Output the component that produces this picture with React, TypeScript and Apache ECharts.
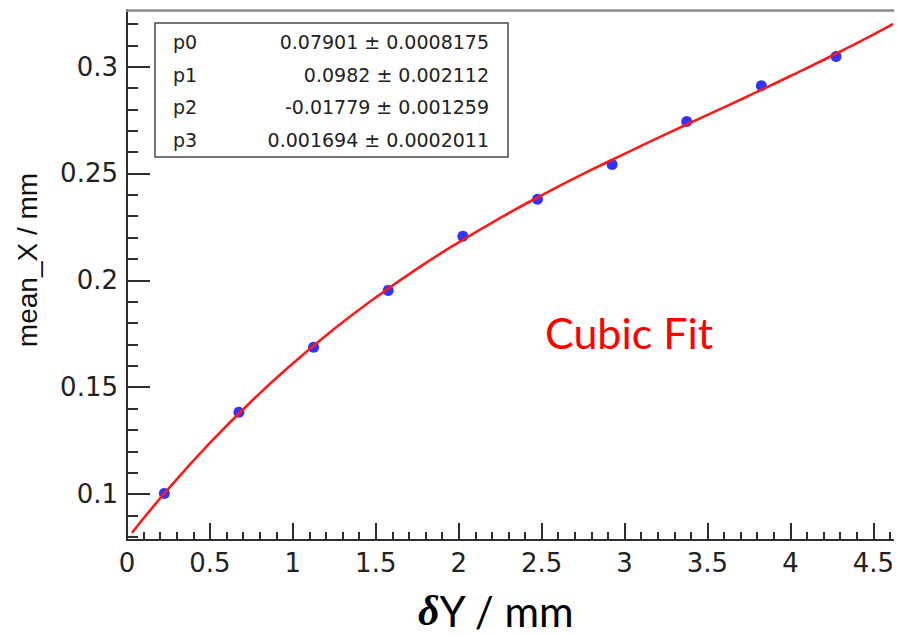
import React, { useEffect, useRef } from "react";
import * as echarts from "echarts";

// Measured points
const pointX = [0.225, 0.675, 1.125, 1.575, 2.025, 2.475, 2.925, 3.375, 3.825, 4.275];
const pointY = [0.1003, 0.1383, 0.1687, 0.1953, 0.2206, 0.2379, 0.2542, 0.2743, 0.2911, 0.3047];

const curveX = [0.03, 0.25, 0.5, 0.75, 1.0, 1.25, 1.5, 1.75, 2.0, 2.25, 2.5, 2.75, 3.0, 3.25, 3.5, 3.75, 4.0, 4.25, 4.5, 4.62];
const curveY = [0.0819, 0.1025, 0.1239, 0.1434, 0.1611, 0.1773, 0.192, 0.2055, 0.2178, 0.2292, 0.2398, 0.2498, 0.2592, 0.2684, 0.2774, 0.2864, 0.2956, 0.3051, 0.315, 0.32];

// Axis ticks
const xMajorTicks = [0, 0.5, 1, 1.5, 2, 2.5, 3, 3.5, 4, 4.5];
const xMinorTicks = [0.1, 0.2, 0.3, 0.4, 0.6, 0.7, 0.8, 0.9, 1.1, 1.2, 1.3, 1.4, 1.6, 1.7, 1.8, 1.9, 2.1, 2.2, 2.3, 2.4, 2.6, 2.7, 2.8, 2.9, 3.1, 3.2, 3.3, 3.4, 3.6, 3.7, 3.8, 3.9, 4.1, 4.2, 4.3, 4.4, 4.6];
const yMajorTicks = [0.1, 0.15, 0.2, 0.25, 0.3];
const yMinorTicks = [0.08, 0.09, 0.11, 0.12, 0.13, 0.14, 0.16, 0.17, 0.18, 0.19, 0.21, 0.22, 0.23, 0.24, 0.26, 0.27, 0.28, 0.29, 0.31, 0.32];

// Stats box
const paramNames = ["p0", "p1", "p2", "p3"];
const paramValues = ["0.07901", "0.0982", "-0.01779", "0.001694"];
const paramErrors = ["0.0008175", "0.002112", "0.001259", "0.0002011"];

const X_MIN = 0;
const X_MAX = 4.62;
const Y_MIN = 0.0785;
const Y_MAX = 0.3265;

const AXIS_COLOR = "#2e2e2e";

function tickAxisX(values: number[], len: number, showLine: boolean): any {
  return {
    type: "value",
    min: X_MIN,
    max: X_MAX,
    position: "bottom",
    axisLine: { show: showLine, onZero: false, lineStyle: { color: AXIS_COLOR, width: 2 } },
    axisTick: {
      show: true,
      inside: true,
      length: len,
      customValues: values,
      lineStyle: { color: AXIS_COLOR, width: 2 },
    },
    axisLabel: { show: false },
    splitLine: { show: false },
  };
}

function tickAxisY(values: number[], len: number, showLine: boolean): any {
  return {
    type: "value",
    min: Y_MIN,
    max: Y_MAX,
    position: "left",
    axisLine: { show: showLine, onZero: false, lineStyle: { color: AXIS_COLOR, width: 2 } },
    axisTick: {
      show: true,
      inside: true,
      length: len,
      customValues: values,
      lineStyle: { color: AXIS_COLOR, width: 2 },
    },
    axisLabel: { show: false },
    splitLine: { show: false },
  };
}

export default function App() {
  const ref = useRef<HTMLDivElement>(null);

  useEffect(() => {
    if (!ref.current) return;
    const chart = echarts.init(ref.current, undefined, { renderer: "svg" });

    const tickFont = "DejaVu Sans";

    const statsGraphics: any[] = [
      {
        type: "rect",
        shape: { x: 155, y: 23, width: 353, height: 134 },
        style: { fill: "#ffffff", stroke: "#4a4a4a", lineWidth: 1.5 },
        z: 100,
      },
    ];
    paramNames.forEach((n, i) => {
      const y = 42 + i * 32.5;
      statsGraphics.push({
        type: "text",
        x: 173,
        y,
        z: 101,
        style: {
          text: n,
          fontSize: 19,
          fontFamily: tickFont,
          fill: "#222",
          align: "left",
          verticalAlign: "middle",
        },
      });
      statsGraphics.push({
        type: "text",
        x: 489,
        y,
        z: 101,
        style: {
          text: `${paramValues[i]} ± ${paramErrors[i]}`,
          fontSize: 19,
          fontFamily: tickFont,
          fill: "#222",
          align: "right",
          verticalAlign: "middle",
        },
      });
    });

    const majorX = tickAxisX(xMajorTicks, 17, true);
    majorX.axisLabel = {
      show: true,
      customValues: xMajorTicks,
      fontFamily: tickFont,
      fontSize: 26,
      color: "#222",
      margin: 10,
    };
    const majorY = tickAxisY(yMajorTicks, 23, true);
    majorY.axisLabel = {
      show: true,
      customValues: yMajorTicks,
      fontFamily: tickFont,
      fontSize: 26,
      color: "#222",
      margin: 9,
    };

    const option: any = {
      animation: false,
      grid: { left: 127, top: 10, right: 0, bottom: 95 },
      xAxis: [
        majorX,
        tickAxisX(xMinorTicks, 8, false),
        {
          type: "value",
          min: X_MIN,
          max: X_MAX,
          position: "top",
          axisLine: { show: true, onZero: false, lineStyle: { color: "#8a8a8a", width: 2.5 } },
          axisTick: { show: false },
          axisLabel: { show: false },
          splitLine: { show: false },
        },
      ],
      yAxis: [majorY, tickAxisY(yMinorTicks, 11, false)],
      series: [
        {
          type: "scatter",
          xAxisIndex: 0,
          yAxisIndex: 0,
          data: pointX.map((x, i) => [x, pointY[i]]),
          symbol: "circle",
          symbolSize: 11,
          itemStyle: { color: "#0000ff" },
        },
        {
          type: "line",
          xAxisIndex: 0,
          yAxisIndex: 0,
          data: curveX.map((x, i) => [x, curveY[i]]),
          smooth: true,
          showSymbol: false,
          symbol: "none",
          lineStyle: { color: "#ff1a1a", width: 2.6 },
        },
      ],
      graphic: [
        ...statsGraphics,
        {
          type: "text",
          x: 27,
          y: 260,
          rotation: Math.PI / 2,
          style: {
            text: "mean_X / mm",
            fontSize: 28,
            fontFamily: "Liberation Sans",
            fill: "#111",
            align: "center",
            verticalAlign: "middle",
          },
        },
        {
          type: "text",
          x: 545,
          y: 332,
          style: {
            text: "Cubic Fit",
            fontSize: 43,
            fontFamily: "Lato",
            fill: "#ff0000",
            align: "left",
            verticalAlign: "middle",
          },
        },
        {
          type: "text",
          x: 418,
          y: 611,
          style: {
            text: "{d|δ}{t|Y / mm}",
            align: "left",
            verticalAlign: "middle",
            rich: {
              d: {
                fontSize: 42,
                fontFamily: "Liberation Serif",
                fontWeight: "bold",
                fontStyle: "italic",
                fill: "#000",
              },
              t: {
                fontSize: 42,
                fontFamily: "Lato",
                fill: "#000",
              },
            },
          },
        },
      ],
    };

    chart.setOption(option);
    return () => {
      chart.dispose();
    };
  }, []);

  return (
    <div
      ref={ref}
      style={{ position: "absolute", left: 0, top: 0, width: 897, height: 635, background: "#fff" }}
    />
  );
}
